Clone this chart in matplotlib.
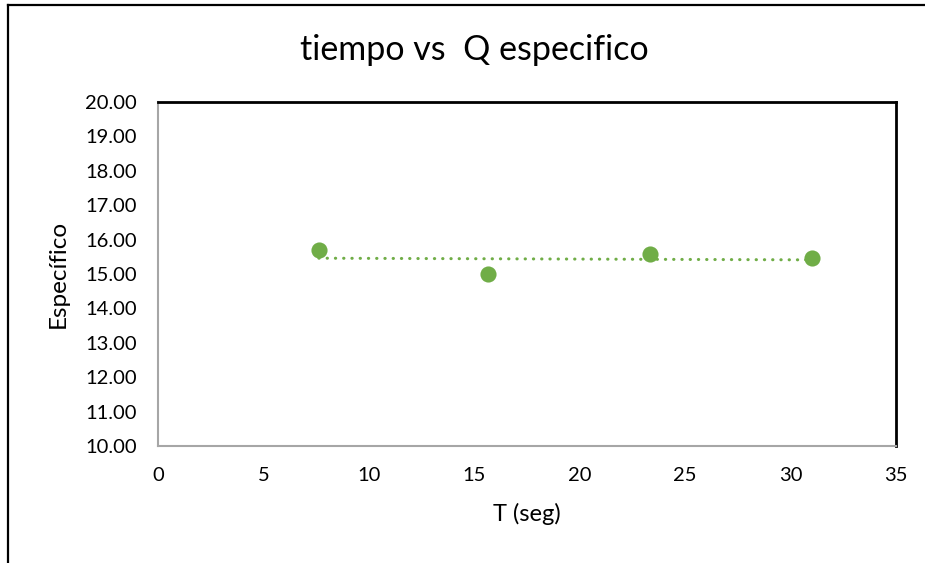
import numpy as np
import matplotlib
matplotlib.use("Agg")
import matplotlib.pyplot as plt
from matplotlib.lines import Line2D

plt.rcParams["font.family"] = ["Lato", "DejaVu Sans"]

# tiempo (s) y Q especifico medidos
tiempo = [7.63, 15.65, 23.33, 31.0]
q_especifico = [15.70, 15.00, 15.58, 15.46]

x_ticks = [0, 5, 10, 15, 20, 25, 30, 35]
y_ticks = [10, 11, 12, 13, 14, 15, 16, 17, 18, 19, 20]

GREEN = "#70AD47"

fig = plt.figure(figsize=(9.25, 5.63), dpi=100)
ax = fig.add_axes([158 / 925, 117 / 563, 738 / 925, 344 / 563])

ax.scatter(tiempo, q_especifico, s=135, color=GREEN, zorder=3, linewidths=0)

# linea de tendencia lineal
coef = np.polyfit(tiempo, q_especifico, 1)
xt = np.array([min(tiempo), max(tiempo)])
ax.plot(xt, np.polyval(coef, xt), color=GREEN, lw=2.2,
        linestyle=(0, (0.1, 2.6)), dash_capstyle="round", zorder=2)

ax.set_xlim(0, 35)
ax.set_ylim(10, 20)
ax.set_xticks(x_ticks)
ax.set_yticks(y_ticks)
ax.set_yticklabels([f"{v:.2f}" for v in y_ticks])
ax.tick_params(length=0, labelsize=14.5, pad=15)

for side in ("top", "right"):
    ax.spines[side].set_color("black")
    ax.spines[side].set_linewidth(2)
for side in ("left", "bottom"):
    ax.spines[side].set_color("#a6a6a6")
    ax.spines[side].set_linewidth(1.5)

ax.set_xlabel("T (seg)", fontsize=17, labelpad=14)
ax.set_ylabel("Específico", fontsize=17.5, labelpad=12)

fig.text(474 / 925, 1 - 50 / 563, "tiempo vs  Q especifico", fontsize=24.5,
         ha="center", va="center")

# borde exterior del grafico
fig.add_artist(Line2D([8 / 925, 8 / 925], [0, 1 - 5 / 563],
                      transform=fig.transFigure, color="black", lw=1.6))
fig.add_artist(Line2D([8 / 925, 1], [1 - 5 / 563, 1 - 5 / 563],
                      transform=fig.transFigure, color="black", lw=1.6))

fig.savefig("out.png", dpi=100)
